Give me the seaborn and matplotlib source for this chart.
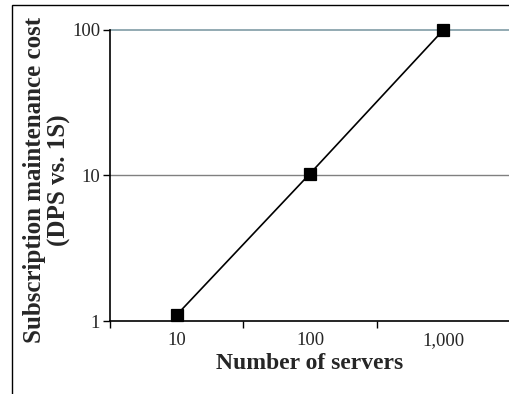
import matplotlib
matplotlib.use("Agg")
import matplotlib.pyplot as plt
from matplotlib.patches import Rectangle
from matplotlib.ticker import FixedLocator, NullLocator
import pandas as pd
import seaborn as sns

servers = ["10", "100", "1,000"]
cost_ratio = [1.1, 10.3, 100]
y_ticks = [1, 10, 100]
y_labels = ["1", "10", "100"]

sns.set_style("white")
plt.rcParams["font.family"] = ["Liberation Serif", "DejaVu Serif"]

df = pd.DataFrame({"servers": servers, "cost": cost_ratio})

fig = plt.figure(figsize=(5.09, 3.94), dpi=100)
ax = fig.add_axes([110 / 509, 73 / 394, 400 / 509, 291 / 394])

# gridlines drawn first so the line sits on top
ax.axhline(10, color="#808080", linewidth=1.0, zorder=0)
ax.axhline(100, color="#8aa4ac", linewidth=1.3, zorder=0, clip_on=False)

sns.pointplot(data=df, x="servers", y="cost", order=servers, color="black",
              markers="s", markersize=9, linewidth=1.2, ax=ax)
for art in ax.lines + ax.collections:
    art.set_clip_on(False)

ax.set_yscale("log")
ax.set_ylim(1, 100)
ax.set_xlim(-0.5, 2.5)
ax.yaxis.set_major_locator(FixedLocator(y_ticks))
ax.yaxis.set_minor_locator(NullLocator())
ax.set_yticklabels(y_labels)

ax.xaxis.set_minor_locator(FixedLocator([-0.5, 0.5, 1.5, 2.5]))
ax.tick_params(axis="x", which="major", length=0, pad=8, labelsize=13.5)
ax.tick_params(axis="x", which="minor", length=5, width=1, color="black",
               direction="out", bottom=True)
ax.tick_params(axis="y", which="major", length=5, width=1, color="black",
               direction="out", left=True, pad=2, labelsize=13.5)

for side in ["top", "right"]:
    ax.spines[side].set_visible(False)
for side in ["left", "bottom"]:
    ax.spines[side].set_color("black")
    ax.spines[side].set_linewidth(1.2)

ax.set_xlabel("Number of servers", fontsize=17, fontweight="bold", labelpad=3)
ax.set_ylabel("Subscription maintenance cost\n(DPS vs. 1S)", fontsize=18,
              fontweight="bold", linespacing=1.12)
ax.yaxis.set_label_coords(-0.097, 0.485)

# outer chart frame (partly cropped in the original)
fig.add_artist(Rectangle((12 / 509, -0.1), 1.2, 1.1 - 5 / 394,
                         transform=fig.transFigure, fill=False,
                         edgecolor="black", linewidth=1.0))

fig.savefig("out.png", dpi=100)
